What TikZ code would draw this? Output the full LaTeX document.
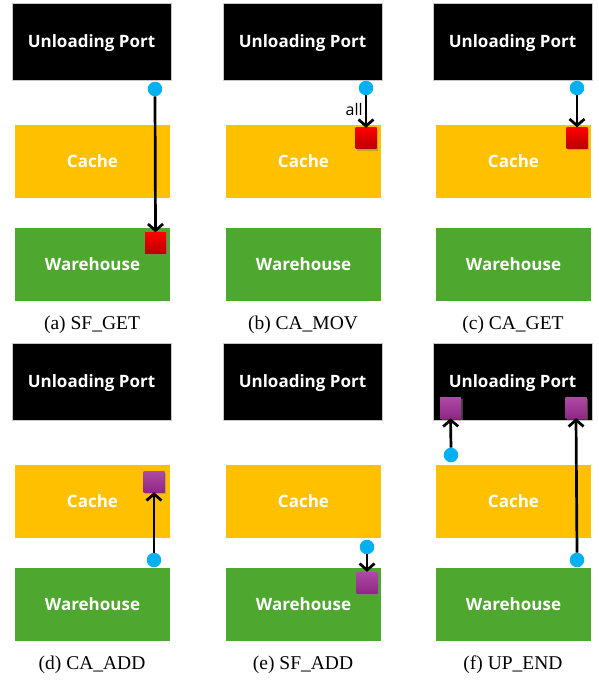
\documentclass[tikz,border=0pt]{standalone}
\usepackage{fontspec}
\setmainfont{Liberation Serif}
\newfontfamily\boxfont{Open Sans}
\usetikzlibrary{arrows.meta, shadows}

\definecolor{cachegold}{HTML}{FFC000}
\definecolor{housegreen}{HTML}{4EA72E}
\definecolor{dotblue}{HTML}{00B0F0}
\definecolor{itempurple}{HTML}{A02B93}

\tikzset{
    area/.style={minimum width=155pt, minimum height=73pt, inner sep=0pt, text=white,
        text height=12pt, text depth=0pt,
        font=\boxfont\bfseries\fontsize{17}{18}\selectfont},
    port/.style={area, fill=black, draw=gray!45, line width=0.6pt, minimum width=159pt, minimum height=77pt},
    cache/.style={area, fill=cachegold},
    house/.style={area, fill=housegreen},
    caption/.style={font=\fontsize{19.5}{20}\selectfont, inner sep=0pt},
    dot/.style={circle, fill=dotblue, minimum size=14.5pt, inner sep=0pt},
    item/.style={minimum size=21pt, inner sep=0pt,
        drop shadow={opacity=0.5, shadow xshift=1.5pt, shadow yshift=-1.8pt}},
    redbox/.style={item, top color=red, bottom color=red!72!black},
    purplebox/.style={item, top color=itempurple!85!white, bottom color=itempurple!90!black},
    arr/.style={line width=2.7pt, -{Straight Barb[length=6.5pt, width=15pt]}},
}

% one panel: name, x, y, caption
\newcommand{\panel}[4]{%
    \begin{scope}[shift={(#2,#3)}]
        \node[port] (#1up) at (79.5, 38.5) {Unloading Port};
        \node[cache] (#1ca) at (80.5, 158.5) {Cache};
        \node[house] (#1wh) at (80.5, 261.5) {Warehouse};
        \node[caption] (#1cap) at (80, 322) {#4};
    \end{scope}}

\begin{document}
\begin{tikzpicture}[x=1pt, y=-1pt]
    \useasboundingbox (0, 0) rectangle (598, 687);

    \panel{a}{12}{3}{(a) SF\_GET}
    \panel{b}{223}{3}{(b) CA\_MOV}
    \panel{c}{433}{3}{(c) CA\_GET}
    \panel{d}{12}{343}{(d) CA\_ADD}
    \panel{e}{223}{343}{(e) SF\_ADD}
    \panel{f}{433}{343}{(f) UP\_END}

    % (a)
    \node[redbox] (abox) at (155.5, 243) {};
    \node[dot] (adot) at (155, 89) {};
    \draw[arr] (adot.south) -- (abox.north);

    % (b)
    \node[redbox] (bbox) at (366, 138.5) {};
    \node[dot] (bdot) at (366, 88) {};
    \draw[arr] (bdot.south) -- node[left, inner sep=2pt, yshift=2pt, font=\boxfont\fontsize{16}{17}\selectfont] {all} (bbox.north);

    % (c)
    \node[redbox] (cbox) at (577, 138) {};
    \node[dot] (cdot) at (577, 88) {};
    \draw[arr] (cdot.south) -- (cbox.north);

    % (d)
    \node[purplebox] (dbox) at (154, 481.5) {};
    \node[dot] (ddot) at (154, 560) {};
    \draw[arr] (ddot.north) -- (dbox.south);

    % (e)
    \node[purplebox] (ebox) at (367, 582.5) {};
    \node[dot] (edot) at (367, 547) {};
    \draw[arr] (edot.south) -- (ebox.north);

    % (f)
    \node[purplebox] (fboxl) at (450.5, 407.5) {};
    \node[purplebox] (fboxr) at (576, 407.5) {};
    \node[dot] (fdotl) at (451, 455) {};
    \node[dot] (fdotr) at (577, 560) {};
    \draw[arr] (fdotl.north) -- (fboxl.south);
    \draw[arr] (fdotr.north) -- (fboxr.south);
\end{tikzpicture}
\end{document}
